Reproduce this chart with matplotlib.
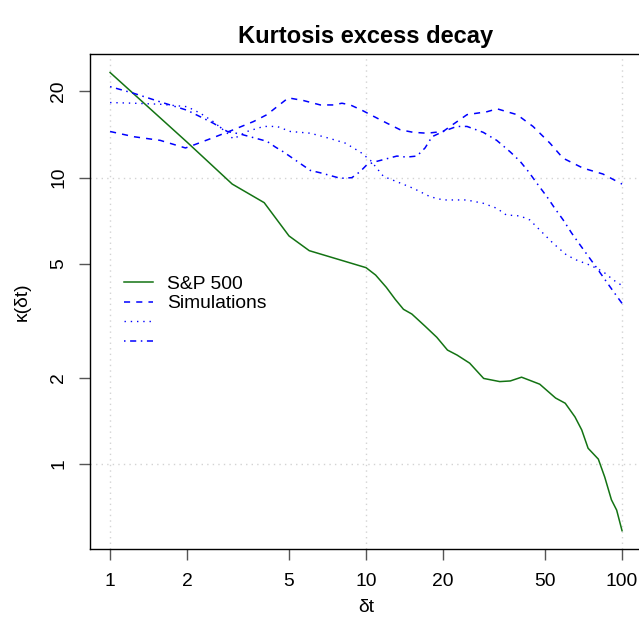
import matplotlib.pyplot as plt
import numpy as np

plt.rcParams['font.family'] = ['Liberation Sans', 'DejaVu Sans']

# S&P 500 excess kurtosis vs lag
sp_dt = [1, 2, 3, 4, 5, 6, 10, 10.9, 12, 13, 14, 15.1, 17, 18.9, 20.8, 22.7, 25.4,
         28.8, 33.3, 36.6, 40.5, 43.6, 47.7, 55, 60, 65.5, 69.6, 73.7, 80.8, 85.6,
         90.9, 95.3, 100]
sp_kurt = [23.3, 13.3, 9.5, 8.18, 6.26, 5.56, 4.85, 4.57, 4.14, 3.76, 3.47, 3.34, 3.03,
           2.77, 2.50, 2.40, 2.25, 1.99, 1.94, 1.95, 2.01, 1.96, 1.90, 1.70, 1.63, 1.46,
           1.315, 1.135, 1.04, 0.90, 0.75, 0.69, 0.585]

# simulation 1 (dashed)
sim1_dt = [1, 1.24, 1.57, 1.97, 2.12, 2.53, 3.03, 3.63, 4.1, 4.49, 4.97, 5.69, 6.63,
           7.45, 8.05, 8.68, 9.64, 10.67, 12.07, 13.6, 15.3, 17.3, 20, 21.3, 24.8,
           29.7, 32.5, 38.9, 44.9, 52.3, 58.8, 70.4, 84.2, 100]
sim1_kurt = [14.5, 13.9, 13.5, 12.7, 13.0, 13.8, 14.7, 15.7, 16.6, 17.7, 19.0, 18.6,
             17.95, 17.95, 18.2, 17.95, 17.2, 16.4, 15.5, 14.7, 14.4, 14.3, 14.5, 15.1,
             16.6, 17.0, 17.4, 16.6, 15.1, 13.2, 11.7, 10.8, 10.3, 9.5]

# simulation 2 (dotted)
sim2_dt = [1, 1.24, 1.57, 2, 2.25, 2.53, 2.87, 3.03, 3.43, 3.98, 4.49, 5.06, 6.06,
           7.24, 8.3, 9.48, 10.4, 11.7, 13.2, 15.3, 17.8, 20, 24.7, 28.7, 32.4, 35.3,
           40, 43.6, 47.7, 53.8, 60.7, 66.3, 74.9, 84.3, 92.6, 100]
sim2_kurt = [18.3, 18.2, 18.05, 17.7, 16.8, 15.7, 14.3, 13.65, 14.5, 15.1, 15.1, 14.5,
             14.3, 13.7, 13.2, 12.3, 11.5, 10.1, 9.68, 9.18, 8.58, 8.36, 8.36, 8.14,
             7.82, 7.41, 7.35, 7.12, 6.57, 5.90, 5.37, 5.16, 4.95, 4.70, 4.39, 4.2]

# simulation 3 (dot-dash)
sim3_dt = [1, 1.24, 1.57, 2, 2.53, 2.87, 3.23, 3.63, 4.1, 4.42, 4.76, 5.54, 6.06, 6.63,
           7.94, 8.8, 9.48, 10.08, 11, 13.2, 14.4, 15.8, 17, 18.1, 20, 22.6, 24.8,
           28.7, 32.4, 36.6, 40, 43.1, 46.5, 50.9, 54.6, 58.9, 63.6, 68.6, 74, 79.8,
           86, 92.6, 100]
sim3_kurt = [20.8, 19.7, 18.4, 17.2, 15.5, 14.5, 14.2, 13.8, 13.4, 12.8, 12.3, 11.2,
             10.6, 10.4, 9.95, 10.0, 10.5, 11.1, 11.4, 11.9, 11.8, 11.9, 12.7, 13.9,
             14.5, 15.1, 15.1, 14.4, 13.5, 12.3, 11.4, 10.5, 9.56, 8.58, 7.82, 7.12,
             6.40, 5.82, 5.30, 4.83, 4.39, 4.00, 3.64]

x_ticks = [1, 2, 5, 10, 20, 50, 100]
y_ticks = [1, 2, 5, 10, 20]

fs = 13.9
fig = plt.figure(figsize=(6.39, 6.28), dpi=100)
ax = fig.add_axes([89.6 / 639, 79 / 628, (642.5 - 89.6) / 639, (549 - 54) / 628])
ax.set_xscale('log')
ax.set_yscale('log')

for v in [1, 10, 100]:
    ax.axvline(v, color='#D3D3D3', lw=1, ls=(0, (1, 3)), zorder=0)
for v in [1, 10]:
    ax.axhline(v, color='#D3D3D3', lw=1, ls=(0, (1, 3)), zorder=0)

l1, = ax.plot(sp_dt, sp_kurt, color='#137313', lw=1.1)
l2, = ax.plot(sim1_dt, sim1_kurt, color='blue', lw=1.1, ls=(0, (4, 4)))
l3, = ax.plot(sim2_dt, sim2_kurt, color='blue', lw=1.0, ls=(0, (1, 3.5)))
l4, = ax.plot(sim3_dt, sim3_kurt, color='blue', lw=1.1, ls=(0, (1, 3, 4, 3)))

ax.set_xlim(10 ** -0.08, 10 ** 2.08)
ax.set_ylim(10 ** -0.2969, 10 ** 1.432)
ax.set_xticks(x_ticks)
ax.set_xticklabels([str(t) for t in x_ticks])
ax.set_yticks(y_ticks)
ax.set_yticklabels([str(t) for t in y_ticks], rotation=90, va='center')
ax.minorticks_off()
ax.tick_params(axis='both', labelsize=fs, length=8, width=1, color='#555555')
ax.tick_params(axis='x', pad=9)
ax.tick_params(axis='y', pad=8)
for s in ax.spines.values():
    s.set_linewidth(1)

ax.set_xlabel('δt', fontsize=fs, labelpad=7)
ax.set_ylabel('κ(δt)', fontsize=fs, labelpad=14)
ax.set_title('Kurtosis excess decay', fontsize=17, fontweight='bold', pad=8)

fig.legend([l1, l2, l3, l4], ['S&P 500', 'Simulations', ' ', ' '],
           loc='upper left', bbox_to_anchor=(124 / 639, 1 - 275 / 628),
           frameon=False, fontsize=fs, handlelength=1.5, handletextpad=0.75,
           labelspacing=0.12, borderpad=0, borderaxespad=0)

fig.savefig('out.png', dpi=100)
